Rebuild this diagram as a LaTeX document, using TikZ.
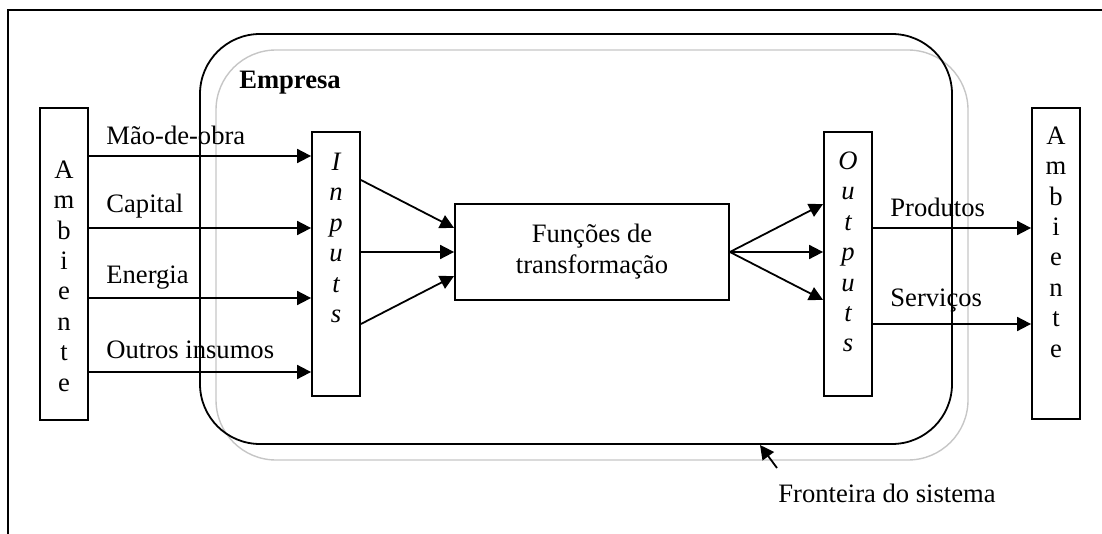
\documentclass[tikz,border=0pt]{standalone}
\usepackage{fontspec}
\setmainfont{Liberation Serif}
\usetikzlibrary{arrows.meta}
\tikzset{
  box/.style={draw, line width=0.9pt, inner sep=0pt, minimum width=24pt},
  letters/.style={align=center, inner sep=0pt, font=\fontsize{13.3}{15.2}\selectfont},
  arr/.style={line width=0.9pt, -{Triangle[length=7pt,width=7pt]}},
  lbl/.style={anchor=west, inner sep=0pt}
}
\begin{document}
\begin{tikzpicture}[x=0.5pt, y=-0.5pt, font=\fontsize{13.3}{15.5}\selectfont]
        \useasboundingbox (0,0) rectangle (1102,534);
        % frame
        \draw[line width=0.9pt] (8,534) -- (8,10) -- (1102,10);
        % system boundary
        \draw[gray!45, line width=0.7pt, rounded corners=30pt] (216,50) rectangle (968,460);
        \draw[line width=0.9pt, rounded corners=30pt] (200,34) rectangle (952,444);
        \node[font=\fontsize{13.3}{15.5}\selectfont\bfseries] (emp) at (290,83) {Empresa};
        % environment boxes
        \node[box, minimum height=156pt] (ambL) at (64,264) {};
        \node[letters] (ambLtxt) at (64,276) {A\\m\\b\\i\\e\\n\\t\\e};
        \node[box, minimum height=155.5pt] (ambR) at (1056,263.5) {};
        \node[letters] (ambRtxt) at (1056,242) {A\\m\\b\\i\\e\\n\\t\\e};
        % inputs and outputs
        \node[box, minimum height=132pt] (inp) at (336,264) {};
        \node[letters, font=\fontsize{13.3}{15.2}\selectfont\itshape] (inptxt) at (336,238) {I\\n\\p\\u\\t\\s};
        \node[box, minimum height=132pt] (outp) at (848,264) {};
        \node[letters, font=\fontsize{13.3}{15.2}\selectfont\itshape] (outptxt) at (848,252) {O\\u\\t\\p\\u\\t\\s};
        % transformation
        \node[draw, line width=0.9pt, minimum width=137pt, minimum height=48pt, align=center] (func) at (592,252) {Funções de\\transformação};
        % arrows into inputs
        \draw[arr] (ambL.east |- 0,156) -- (inp.west |- 0,156);
        \draw[arr] (ambL.east |- 0,228) -- (inp.west |- 0,228);
        \draw[arr] (ambL.east |- 0,298) -- (inp.west |- 0,298);
        \draw[arr] (ambL.east |- 0,372) -- (inp.west |- 0,372);
        \node[lbl] (l1) at (106,135) {Mão-de-obra};
        \node[lbl] (l2) at (106,206) {Capital};
        \node[lbl] (l3) at (106,278) {Energia};
        \node[lbl] (l4) at (106,350) {Outros insumos};
        % inputs to transformation
        \draw[arr] (inp.east |- 0,180) -- (func.west |- 0,228);
        \draw[arr] (inp.east |- 0,252) -- (func.west |- 0,252);
        \draw[arr] (inp.east |- 0,324) -- (func.west |- 0,276);
        % transformation to outputs
        \draw[arr] (func.east) -- (outp.west |- 0,204);
        \draw[arr] (func.east) -- (outp.west |- 0,252);
        \draw[arr] (func.east) -- (outp.west |- 0,300);
        % outputs to environment
        \draw[arr] (outp.east |- 0,228) -- (ambR.west |- 0,228);
        \draw[arr] (outp.east |- 0,324) -- (ambR.west |- 0,324);
        \node[lbl] (l5) at (890,207) {Produtos};
        \node[lbl] (l6) at (890,301) {Serviços};
        % boundary label
        \node (front) at (887,493) {Fronteira do sistema};
        \coordinate (tail) at (777,468);
        \coordinate (tip) at (760,445);
        \draw[arr] (tail) -- (tip);
    \end{tikzpicture}
\end{document}
